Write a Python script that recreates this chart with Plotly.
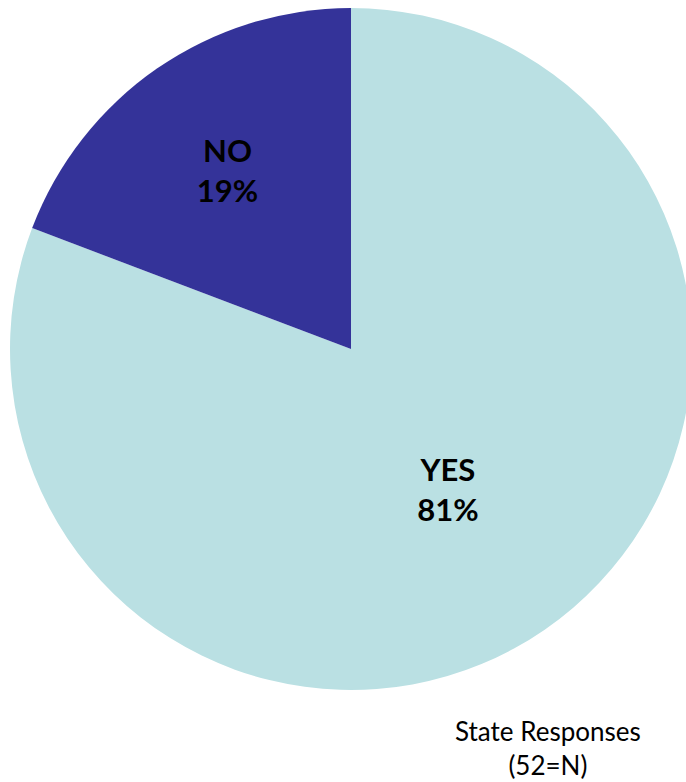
import plotly.graph_objects as go

labels = ["YES", "NO"]
values = [42, 10]
colors = ["#BAE0E3", "#343399"]
note_lines = ["State Responses", "(52=N)"]

W, H = 700, 782
L, R, T, B = 10, 8, 8, 0
PW = W - L - R
PH = H - T - B
fig = go.Figure(go.Pie(
    labels=labels,
    values=values,
    marker=dict(colors=colors, line=dict(width=0)),
    sort=False,
    direction="clockwise",
    rotation=0,
    texttemplate="<b>%{label}</b><br><b>%{percent:.0%}</b>",
    textposition="inside",
    insidetextorientation="horizontal",
    textfont=dict(family="Lato, Open Sans, sans-serif", size=31, color="#000000"),
    hoverinfo="label+percent",
    showlegend=False,
    domain=dict(x=[0, 1], y=[1 - PW / PH, 1]),
))

fig.add_annotation(
    text="<br>".join(note_lines),
    x=538, y=740, xref="x", yref="y",
    showarrow=False,
    font=dict(family="Lato, Open Sans, sans-serif", size=26, color="#000000"),
    align="center",
)
fig.update_xaxes(visible=False, range=[0, PW], domain=[0, 1])
fig.update_yaxes(visible=False, range=[PH, 0], domain=[0, 1])

fig.update_layout(
    width=W, height=H,
    margin=dict(l=L, r=R, t=T, b=B),
    paper_bgcolor="white", plot_bgcolor="rgba(0,0,0,0)",
)
fig.write_html(
    "out.html",
    config={"displayModeBar": False},
    post_script="document.body.style.margin='0';document.body.style.overflow='hidden';",
)
